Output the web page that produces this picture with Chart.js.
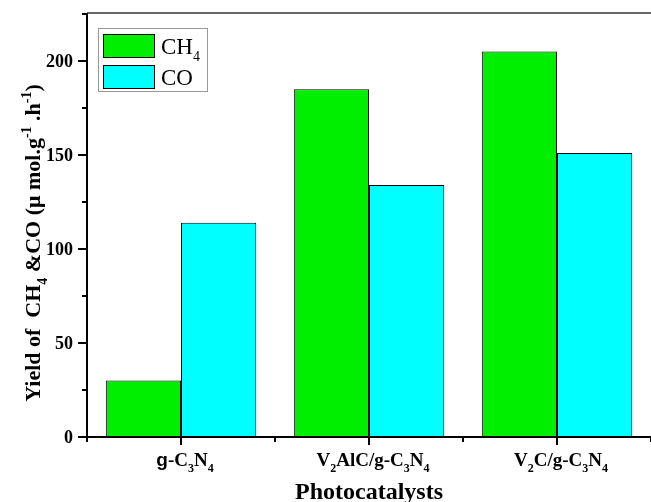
<!DOCTYPE html>
<html>
<head>
<meta charset="utf-8">
<script src="https://cdn.jsdelivr.net/npm/chart.js@4/dist/chart.umd.min.js"></script>
<style>
  html, body { margin: 0; padding: 0; background: #fff; overflow: hidden; }
</style>
</head>
<body>
<canvas id="yield" width="651" height="502"></canvas>
<script>
// data
// markup: _{..} subscript, ^{..} superscript, |..| sans-serif part
var categories = ['|g|-C_{3}N_{4}', 'V_{2}AlC/g-C_{3}N_{4}', 'V_{2}C/g-C_{3}N_{4}'];
var seriesLabels = ['CH_{4}', 'CO'];
var ch4Values = [30, 185, 205];
var coValues = [114, 134, 151];
var yTicks = [0, 50, 100, 150, 200];
var yMinorTicks = [25, 75, 125, 175, 225];
var yTitle = 'Yield of  CH_{4} &CO (\u03bc mol.g^{-1} .h^{-1})';
var xTitle = 'Photocatalysts';

var SERIF = '"Liberation Serif", "Times New Roman", serif';
var SANS = '"Liberation Sans", Arial, sans-serif';

function parseRich(str) {
  var segs = [], i = 0, buf = '';
  function flush() { if (buf) segs.push({ t: buf, m: 'n' }); buf = ''; }
  while (i < str.length) {
    var c = str[i];
    if ((c === '_' || c === '^') && str[i + 1] === '{') {
      flush();
      var end = str.indexOf('}', i);
      segs.push({ t: str.slice(i + 2, end), m: c === '_' ? 'sub' : 'sup' });
      i = end + 1;
    } else if (c === '|') {
      flush();
      var e2 = str.indexOf('|', i + 1);
      segs.push({ t: str.slice(i + 1, e2), m: 'sans' });
      i = e2 + 1;
    } else { buf += c; i++; }
  }
  flush();
  return segs;
}

function segFont(s, size, weight) {
  var small = s.m === 'sub' || s.m === 'sup';
  var fam = s.m === 'sans' ? SANS : SERIF;
  return weight + ' ' + Math.round(small ? size * 0.62 : size) + 'px ' + fam;
}

// draws rich text; x is the anchor (align: left/center), y the baseline
function drawRich(ctx, str, x, y, size, weight, align) {
  var segs = parseRich(str), total = 0;
  segs.forEach(function (s) { ctx.font = segFont(s, size, weight); s.w = ctx.measureText(s.t).width; total += s.w; });
  var cx = align === 'center' ? x - total / 2 : x;
  ctx.textAlign = 'left';
  ctx.textBaseline = 'alphabetic';
  segs.forEach(function (s) {
    ctx.font = segFont(s, size, weight);
    var dy = s.m === 'sub' ? size * 0.3 : (s.m === 'sup' ? -size * 0.42 : 0);
    ctx.fillText(s.t, cx, y + dy);
    cx += s.w;
  });
}

var axesPlugin = {
  id: 'originAxes',
  afterDatasetsDraw: function (chart) {
    var ctx = chart.ctx, a = chart.chartArea;
    var xs = chart.scales.x, ys = chart.scales.y;
    ctx.save();
    ctx.strokeStyle = '#000';
    ctx.fillStyle = '#000';

    // frame: left, bottom, top
    ctx.lineWidth = 2;
    ctx.beginPath();
    ctx.moveTo(a.left, a.top); ctx.lineTo(a.left, a.bottom + 1);
    ctx.moveTo(a.left - 1, a.bottom); ctx.lineTo(a.right + 2, a.bottom);
    ctx.stroke();
    ctx.lineWidth = 1.5;
    ctx.strokeStyle = '#333';
    ctx.beginPath();
    ctx.moveTo(a.left, a.top); ctx.lineTo(a.right + 2, a.top);
    ctx.stroke();
    ctx.strokeStyle = '#000';

    // y ticks
    ctx.lineWidth = 2;
    yTicks.forEach(function (v) {
      var py = Math.round(ys.getPixelForValue(v));
      ctx.beginPath(); ctx.moveTo(a.left - 9, py); ctx.lineTo(a.left, py); ctx.stroke();
      ctx.font = 'bold 18px ' + SERIF;
      ctx.textAlign = 'right';
      ctx.textBaseline = 'middle';
      ctx.fillText(String(v), a.left - 14, py + 1);
    });
    yMinorTicks.forEach(function (v) {
      var py = Math.round(ys.getPixelForValue(v));
      if (py < a.top) return;
      ctx.beginPath(); ctx.moveTo(a.left - 5, py); ctx.lineTo(a.left, py); ctx.stroke();
    });

    // x ticks: major at categories, minor between them
    categories.forEach(function (c, i) {
      var px = Math.round(xs.getPixelForValue(i));
      ctx.beginPath(); ctx.moveTo(px, a.bottom); ctx.lineTo(px, a.bottom + 8); ctx.stroke();
      drawRich(ctx, c, px + 4, 466, 19, 'bold', 'center');
    });
    for (var k = 0; k <= categories.length; k++) {
      var mx = Math.round(xs.getPixelForValue(k - 0.5));
      ctx.beginPath(); ctx.moveTo(mx, a.bottom); ctx.lineTo(mx, a.bottom + 5); ctx.stroke();
    }

    // axis titles
    ctx.font = 'bold 24px ' + SERIF;
    ctx.textAlign = 'center';
    ctx.textBaseline = 'alphabetic';
    ctx.fillText(xTitle, (a.left + a.right) / 2, 499);

    ctx.save();
    ctx.translate(40, 243);
    ctx.rotate(-Math.PI / 2);
    drawRich(ctx, yTitle, 0, 0, 22, 'bold', 'center');
    ctx.restore();

    // legend
    var lx = 98, ly = 28;
    ctx.lineWidth = 1;
    ctx.strokeStyle = '#999';
    ctx.strokeRect(lx + 0.5, ly + 0.5, 109, 63);
    chart.data.datasets.forEach(function (ds, i) {
      var sy = ly + 6 + i * 31;
      ctx.fillStyle = ds.backgroundColor;
      ctx.fillRect(lx + 5, sy, 52, 24);
      ctx.strokeStyle = '#000';
      ctx.strokeRect(lx + 5.5, sy + 0.5, 51, 23);
      ctx.fillStyle = '#000';
      drawRich(ctx, ds.label, lx + 63, sy + 20, 23, 'normal', 'left');
    });
    ctx.restore();
  }
};

new Chart(document.getElementById('yield'), {
  type: 'bar',
  data: {
    labels: categories,
    datasets: [
      { label: seriesLabels[0], data: ch4Values, backgroundColor: '#00ee00', borderColor: '#000', borderWidth: 1 },
      { label: seriesLabels[1], data: coValues, backgroundColor: '#00ffff', borderColor: '#000', borderWidth: 1 }
    ]
  },
  options: {
    responsive: false,
    animation: false,
    layout: { padding: { left: 87, top: 13, right: 0, bottom: 65 } },
    datasets: { bar: { categoryPercentage: 0.8, barPercentage: 1.0 } },
    scales: {
      x: { display: false, offset: true },
      y: { display: false, min: 0, max: 225.5 }
    },
    plugins: {
      legend: { display: false },
      tooltip: { enabled: false }
    }
  },
  plugins: [axesPlugin]
});
</script>
</body>
</html>
